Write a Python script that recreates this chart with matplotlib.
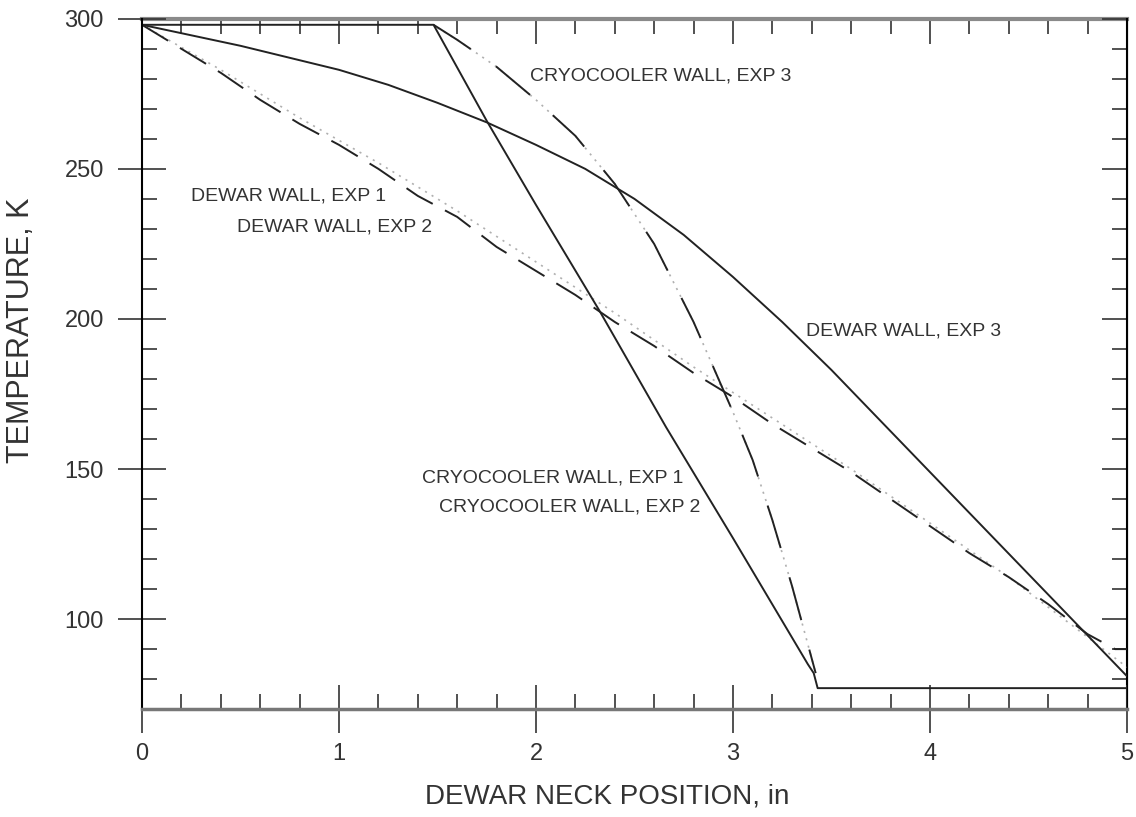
import numpy as np
import matplotlib
matplotlib.use('Agg')
import matplotlib.pyplot as plt
from matplotlib.ticker import MultipleLocator

plt.rcParams['font.family'] = ['Liberation Sans', 'DejaVu Sans']
plt.rcParams['lines.scale_dashes'] = False

# dewar wall temperature profiles (K) vs neck position (in)
x_dewar1 = [0, 0.2, 0.4, 0.6, 0.8, 1.0, 1.2, 1.4, 1.6, 1.8, 2.0, 2.2, 2.4, 2.6, 2.8,
            3.0, 3.2, 3.4, 3.6, 3.8, 4.0, 4.2, 4.4, 4.6, 4.8, 4.94, 5.0]
t_dewar1 = [298, 290, 282, 273, 265, 258, 250, 241, 234, 224, 216, 208, 199, 191, 182,
            174, 165, 157, 149, 140, 131, 122, 114, 105, 95, 90, 90]

x_dewar2 = [0, 0.4, 0.8, 1.2, 1.6, 2.0, 2.4, 2.8, 3.2, 3.6, 4.0, 4.4, 4.8, 5.0]
t_dewar2 = [298, 283, 267, 252, 236, 219, 202, 184, 167, 150, 132, 114, 94, 84]

x_dewar3 = [0, 0.25, 0.5, 0.75, 1.0, 1.25, 1.5, 1.75, 2.0, 2.25, 2.5, 2.75, 3.0,
            3.25, 3.5, 3.75, 4.0, 4.25, 4.5, 4.75, 5.0]
t_dewar3 = [298, 294.5, 291, 287, 283, 278, 272, 265.5, 258, 250, 240, 228, 214,
            199, 183, 166, 149, 132, 115, 98, 81]

# cryocooler wall temperature profiles
x_cryo1 = [0, 1.48, 1.75, 2.0, 2.32, 2.66, 3.0, 3.38, 3.41, 3.43, 5.0]
t_cryo1 = [298, 298, 266, 238, 203, 164, 127, 85, 82, 77, 77]

x_cryo2 = [1.5, 1.6, 1.8, 2.0, 2.2, 2.4, 2.6, 2.8, 3.0, 3.1, 3.2, 3.3, 3.42]
t_cryo2 = [297, 293, 284, 273, 261, 245, 225, 199, 169, 153, 133, 111, 82]

x_cryo3 = [1.48, 1.6, 1.8, 2.0, 2.2, 2.4, 2.6, 2.8, 3.0, 3.1, 3.2, 3.3, 3.42]
t_cryo3 = [298, 293, 284, 273, 261, 245, 225, 199, 169, 153, 133, 111, 82]

fig = plt.figure(figsize=(11.36, 8.17), dpi=100)
ax = fig.add_axes([0.125, 0.132, 0.867, 0.845])

lw = 1.4
ax.plot(x_dewar2, t_dewar2, color='#b0b0b0', lw=1.2, linestyle=(0, (1.5, 4)))
ax.plot(x_cryo2, t_cryo2, color='#b0b0b0', lw=1.2, linestyle=(0, (1.5, 4)))
ax.plot(x_dewar1, t_dewar1, color='#222222', lw=lw, linestyle=(0, (22, 10)))
ax.plot(x_dewar3, t_dewar3, color='#222222', lw=lw)
ax.plot(x_cryo1, t_cryo1, color='#222222', lw=lw)
ax.plot(x_cryo3, t_cryo3, color='#222222', lw=lw, linestyle=(0, (32, 22)))

ax.set_xlim(0, 5)
ax.set_ylim(70, 300)

ax.xaxis.set_major_locator(MultipleLocator(1))
ax.xaxis.set_minor_locator(MultipleLocator(0.2))
ax.yaxis.set_minor_locator(MultipleLocator(10))
ax.set_yticks([100, 150, 200, 250, 300])

ax.tick_params(which='major', direction='inout', length=35, width=1.2,
               labelsize=17, labelcolor='#333333', color='#333333')
ax.tick_params(axis='y', which='major', pad=10)
ax.tick_params(axis='x', which='major', pad=7)
ax.tick_params(which='minor', direction='in', length=11, width=1.2, color='#333333')

# inward ticks on the top and right edges
top = ax.secondary_xaxis('top')
top.xaxis.set_major_locator(MultipleLocator(1))
top.xaxis.set_minor_locator(MultipleLocator(0.2))
top.tick_params(which='major', direction='in', length=18, width=1.2, labeltop=False, color='#333333')
top.tick_params(which='minor', direction='in', length=11, width=1.2, color='#333333')
top.spines['top'].set_color('#8a8a8a')
top.spines['top'].set_linewidth(3)

right = ax.secondary_yaxis('right')
right.yaxis.set_major_locator(MultipleLocator(50))
right.yaxis.set_minor_locator(MultipleLocator(10))
right.tick_params(which='major', direction='in', length=18, width=1.2, labelright=False, color='#333333')
right.tick_params(which='minor', direction='in', length=11, width=1.2, color='#333333')
right.spines['right'].set_linewidth(1.5)

ax.spines['bottom'].set_color('#777777')
ax.spines['bottom'].set_linewidth(2.5)
ax.spines['left'].set_linewidth(1.5)
ax.spines['top'].set_visible(False)

ax.set_xlabel('DEWAR NECK POSITION, in', fontsize=20, color='#333333')
ax.xaxis.set_label_coords(0.472, -0.108)
ax.set_ylabel('TEMPERATURE, K', fontsize=22, color='#333333')
ax.yaxis.set_label_coords(-0.108, 0.549)

lab = dict(fontsize=14, color='#333333', va='center', ha='left')
ax.text(1.97, 281, 'CRYOCOOLER WALL, EXP 3', **lab)
ax.text(0.25, 241, 'DEWAR WALL, EXP 1', **lab)
ax.text(0.48, 230.5, 'DEWAR WALL, EXP 2', **lab)
ax.text(3.37, 196, 'DEWAR WALL, EXP 3', **lab)
ax.text(1.42, 147, 'CRYOCOOLER WALL, EXP 1', **lab)
ax.text(1.51, 137.5, 'CRYOCOOLER WALL, EXP 2', **lab)

fig.savefig('out.png', dpi=100)
